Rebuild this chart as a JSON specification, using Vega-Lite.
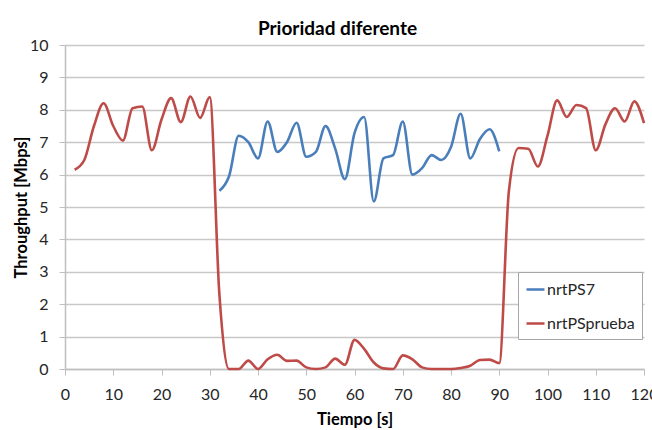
{
  "$schema": "https://vega.github.io/schema/vega-lite/v6.json",
  "width": 579,
  "height": 324,
  "autosize": {"type": "none"},
  "padding": {"left": 65, "top": 45, "right": 8, "bottom": 61},
  "background": "white",
  "config": {
    "font": "Lato",
    "view": {"stroke": null},
    "axis": {"labelColor": "#262626", "titleColor": "#000000", "labelFont": "Lato", "titleFont": "Lato"}
  },
  "title": {"text": "Prioridad diferente", "fontSize": 19, "fontWeight": "bold", "anchor": "middle", "dx": -17, "offset": -2, "color": "#000000", "font": "Lato"},
  "data": {"values": [
    {"t": 2, "v": 6.15, "s": "nrtPSprueba"},
    {"t": 4, "v": 6.45, "s": "nrtPSprueba"},
    {"t": 6, "v": 7.5, "s": "nrtPSprueba"},
    {"t": 8, "v": 8.2, "s": "nrtPSprueba"},
    {"t": 10, "v": 7.5, "s": "nrtPSprueba"},
    {"t": 12, "v": 7.05, "s": "nrtPSprueba"},
    {"t": 14, "v": 8.05, "s": "nrtPSprueba"},
    {"t": 16, "v": 8.1, "s": "nrtPSprueba"},
    {"t": 18, "v": 6.75, "s": "nrtPSprueba"},
    {"t": 20, "v": 7.7, "s": "nrtPSprueba"},
    {"t": 22, "v": 8.36, "s": "nrtPSprueba"},
    {"t": 24, "v": 7.62, "s": "nrtPSprueba"},
    {"t": 26, "v": 8.41, "s": "nrtPSprueba"},
    {"t": 28, "v": 7.75, "s": "nrtPSprueba"},
    {"t": 30, "v": 8.39, "s": "nrtPSprueba"},
    {"t": 32, "v": 2.3, "s": "nrtPSprueba"},
    {"t": 34, "v": 0, "s": "nrtPSprueba"},
    {"t": 36, "v": 0, "s": "nrtPSprueba"},
    {"t": 38, "v": 0.26, "s": "nrtPSprueba"},
    {"t": 40, "v": 0, "s": "nrtPSprueba"},
    {"t": 42, "v": 0.3, "s": "nrtPSprueba"},
    {"t": 44, "v": 0.44, "s": "nrtPSprueba"},
    {"t": 46, "v": 0.25, "s": "nrtPSprueba"},
    {"t": 48, "v": 0.26, "s": "nrtPSprueba"},
    {"t": 50, "v": 0.05, "s": "nrtPSprueba"},
    {"t": 52, "v": 0, "s": "nrtPSprueba"},
    {"t": 54, "v": 0.05, "s": "nrtPSprueba"},
    {"t": 56, "v": 0.32, "s": "nrtPSprueba"},
    {"t": 58, "v": 0.13, "s": "nrtPSprueba"},
    {"t": 60, "v": 0.9, "s": "nrtPSprueba"},
    {"t": 62, "v": 0.62, "s": "nrtPSprueba"},
    {"t": 64, "v": 0.2, "s": "nrtPSprueba"},
    {"t": 66, "v": 0.02, "s": "nrtPSprueba"},
    {"t": 68, "v": 0, "s": "nrtPSprueba"},
    {"t": 70, "v": 0.42, "s": "nrtPSprueba"},
    {"t": 72, "v": 0.3, "s": "nrtPSprueba"},
    {"t": 74, "v": 0.05, "s": "nrtPSprueba"},
    {"t": 76, "v": 0, "s": "nrtPSprueba"},
    {"t": 78, "v": 0, "s": "nrtPSprueba"},
    {"t": 80, "v": 0, "s": "nrtPSprueba"},
    {"t": 82, "v": 0.03, "s": "nrtPSprueba"},
    {"t": 84, "v": 0.1, "s": "nrtPSprueba"},
    {"t": 86, "v": 0.28, "s": "nrtPSprueba"},
    {"t": 88, "v": 0.29, "s": "nrtPSprueba"},
    {"t": 90, "v": 0.18, "s": "nrtPSprueba"},
    {"t": 92, "v": 5.5, "s": "nrtPSprueba"},
    {"t": 94, "v": 6.82, "s": "nrtPSprueba"},
    {"t": 96, "v": 6.8, "s": "nrtPSprueba"},
    {"t": 98, "v": 6.25, "s": "nrtPSprueba"},
    {"t": 100, "v": 7.2, "s": "nrtPSprueba"},
    {"t": 102, "v": 8.29, "s": "nrtPSprueba"},
    {"t": 104, "v": 7.78, "s": "nrtPSprueba"},
    {"t": 106, "v": 8.15, "s": "nrtPSprueba"},
    {"t": 108, "v": 8.05, "s": "nrtPSprueba"},
    {"t": 110, "v": 6.75, "s": "nrtPSprueba"},
    {"t": 112, "v": 7.55, "s": "nrtPSprueba"},
    {"t": 114, "v": 8.05, "s": "nrtPSprueba"},
    {"t": 116, "v": 7.64, "s": "nrtPSprueba"},
    {"t": 118, "v": 8.26, "s": "nrtPSprueba"},
    {"t": 120, "v": 7.59, "s": "nrtPSprueba"},
    {"t": 32, "v": 5.5, "s": "nrtPS7"},
    {"t": 34, "v": 5.95, "s": "nrtPS7"},
    {"t": 36, "v": 7.2, "s": "nrtPS7"},
    {"t": 38, "v": 7.0, "s": "nrtPS7"},
    {"t": 40, "v": 6.5, "s": "nrtPS7"},
    {"t": 42, "v": 7.64, "s": "nrtPS7"},
    {"t": 44, "v": 6.7, "s": "nrtPS7"},
    {"t": 46, "v": 7.0, "s": "nrtPS7"},
    {"t": 48, "v": 7.6, "s": "nrtPS7"},
    {"t": 50, "v": 6.55, "s": "nrtPS7"},
    {"t": 52, "v": 6.7, "s": "nrtPS7"},
    {"t": 54, "v": 7.5, "s": "nrtPS7"},
    {"t": 56, "v": 6.8, "s": "nrtPS7"},
    {"t": 58, "v": 5.86, "s": "nrtPS7"},
    {"t": 60, "v": 7.28, "s": "nrtPS7"},
    {"t": 62, "v": 7.78, "s": "nrtPS7"},
    {"t": 64, "v": 5.17, "s": "nrtPS7"},
    {"t": 66, "v": 6.5, "s": "nrtPS7"},
    {"t": 68, "v": 6.6, "s": "nrtPS7"},
    {"t": 70, "v": 7.64, "s": "nrtPS7"},
    {"t": 72, "v": 6.0, "s": "nrtPS7"},
    {"t": 74, "v": 6.2, "s": "nrtPS7"},
    {"t": 76, "v": 6.6, "s": "nrtPS7"},
    {"t": 78, "v": 6.45, "s": "nrtPS7"},
    {"t": 80, "v": 6.85, "s": "nrtPS7"},
    {"t": 82, "v": 7.88, "s": "nrtPS7"},
    {"t": 84, "v": 6.5, "s": "nrtPS7"},
    {"t": 86, "v": 7.1, "s": "nrtPS7"},
    {"t": 88, "v": 7.4, "s": "nrtPS7"},
    {"t": 90, "v": 6.72, "s": "nrtPS7"}
  ]},
  "mark": {"type": "line", "interpolate": "monotone", "strokeWidth": 2.6},
  "encoding": {
    "x": {
      "field": "t", "type": "quantitative",
      "scale": {"domain": [0, 120], "nice": false, "zero": false},
      "axis": {
        "title": "Tiempo [s]", "titleFontSize": 16.5, "titleFontWeight": "bold", "titlePadding": 9,
        "values": [0, 10, 20, 30, 40, 50, 60, 70, 80, 90, 100, 110, 120],
        "labelFontSize": 16, "labelPadding": 11, "tickSize": 6, "tickColor": "#bfbfbf",
        "domainColor": "#bfbfbf", "domainWidth": 1.5, "grid": false, "labelFlush": false, "labelOverlap": false
      }
    },
    "y": {
      "field": "v", "type": "quantitative",
      "scale": {"domain": [0, 10], "nice": false},
      "axis": {
        "title": "Throughput [Mbps]", "titleFontSize": 16.5, "titleFontWeight": "bold", "titlePadding": 0,
        "values": [0, 1, 2, 3, 4, 5, 6, 7, 8, 9, 10],
        "labelFontSize": 16, "labelPadding": 11, "tickSize": 6, "tickColor": "#bfbfbf",
        "domainColor": "#bfbfbf", "domainWidth": 1.5, "grid": true, "gridColor": "#c8c8c8", "gridWidth": 1.3, "labelFlush": false
      }
    },
    "color": {
      "field": "s", "type": "nominal",
      "scale": {"domain": ["nrtPS7", "nrtPSprueba"], "range": ["#4a7ebb", "#be4b48"]},
      "legend": {
        "title": null, "orient": "none", "legendX": 453, "legendY": 227,
        "strokeColor": "#a6a6a6", "fillColor": "white", "padding": 7,
        "symbolType": "stroke", "symbolSize": 324, "symbolStrokeWidth": 2.5,
        "labelFontSize": 16, "labelColor": "#262626", "labelOffset": 1, "rowPadding": 15, "labelFont": "Lato"
      }
    }
  }
}
